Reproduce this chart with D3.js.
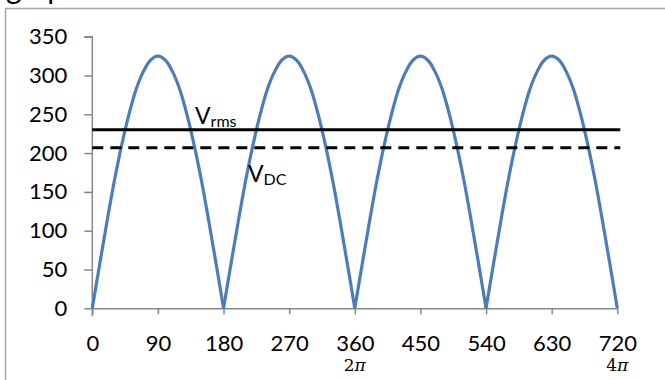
<!DOCTYPE html>
<html>
<head>
<meta charset="utf-8">
<script src="https://cdn.jsdelivr.net/npm/d3@7"></script>
<style>
  body { margin: 0; background: #fff; }
  svg { display: block; font-family: Lato, "Open Sans", sans-serif; }
  .axis path, .axis line { stroke: #868686; }
</style>
</head>
<body>
<div id="chart"></div>
<script>
// rectified sine, sampled every 10 degrees
const voltage = [
  0, 56, 111, 163, 209, 249, 282, 305, 320, 325, 320, 305, 282, 249, 209, 163, 111, 56,
  0, 56, 111, 163, 209, 249, 282, 305, 320, 325, 320, 305, 282, 249, 209, 163, 111, 56,
  0, 56, 111, 163, 209, 249, 282, 305, 320, 325, 320, 305, 282, 249, 209, 163, 111, 56,
  0, 56, 111, 163, 209, 249, 282, 305, 320, 325, 320, 305, 282, 249, 209, 163, 111, 56,
  0
];
const degrees = d3.range(0, 721, 10);
const vRms = 230;
const vDc = 207;
const xTicks = [0, 90, 180, 270, 360, 450, 540, 630, 720];
const yTicks = [0, 50, 100, 150, 200, 250, 300, 350];
const piLabels = [{ at: 360, label: "2" }, { at: 720, label: "4" }];

const width = 665, height = 380;

const svg = d3.select("#chart")
  .append("svg")
  .attr("width", width)
  .attr("height", height);

// frame of the surrounding box (cut off right and bottom)
svg.append("rect")
  .attr("x", 5.5).attr("y", 8.5)
  .attr("width", 720).attr("height", 400)
  .attr("fill", "none")
  .attr("stroke", "#a6a6a6")
  .attr("stroke-width", 1.5);

// title above the frame, only its descenders are in view
svg.append("text")
  .attr("x", 6).attr("y", -1)
  .attr("font-size", 30)
  .text("graph");

const x = d3.scaleLinear().domain([0, 720]).range([92.3, 617.3]);
const y = d3.scaleLinear().domain([0, 350]).range([308.3, 36.7]);

const xAxis = svg.append("g")
  .attr("class", "axis")
  .attr("transform", `translate(0,${y(0)})`)
  .call(d3.axisBottom(x).tickValues(xTicks).tickSize(6).tickSizeOuter(0).tickPadding(21));
xAxis.selectAll("path, line").attr("stroke-width", 1.5);

const yAxis = svg.append("g")
  .attr("class", "axis")
  .attr("transform", `translate(${x(0)},0)`)
  .call(d3.axisLeft(y).tickValues(yTicks).tickSize(8).tickSizeOuter(8).tickPadding(17));
yAxis.selectAll("path, line").attr("stroke-width", 1.5);
yAxis.select(".domain").attr("d", `M-8,${y(350)}H0V${y(0) + 8}`);

svg.selectAll(".axis")
  .attr("font-family", "Lato, 'Open Sans', sans-serif")
  .attr("font-size", 22);
svg.selectAll(".axis .tick text").attr("fill", "#000");

// 2π / 4π under the x labels
svg.append("g").selectAll("text")
  .data(piLabels).enter()
  .append("text")
  .attr("x", d => x(d.at))
  .attr("y", 371)
  .attr("text-anchor", "middle")
  .attr("font-family", "'DejaVu Serif', serif")
  .attr("font-size", 17)
  .each(function (d) {
    const t = d3.select(this);
    t.append("tspan").text(d.label);
    t.append("tspan").attr("font-style", "italic").text("\u03c0");
  });

// one smooth arch per half cycle, so the cusps at zero stay sharp
const points = voltage.map((v, i) => ({ deg: degrees[i], v }));
const arches = d3.range(4).map(k => points.slice(k * 18, k * 18 + 19));

const line = d3.line()
  .x(d => x(d.deg))
  .y(d => y(d.v))
  .curve(d3.curveCatmullRom);

svg.append("g").selectAll("path")
  .data(arches).enter()
  .append("path")
  .attr("fill", "none")
  .attr("stroke", "#4a7ebb")
  .attr("stroke-width", 3.2)
  .attr("stroke-linejoin", "round")
  .attr("d", line);

svg.append("line")
  .attr("x1", x(0)).attr("x2", x(720) + 3)
  .attr("y1", y(vRms)).attr("y2", y(vRms))
  .attr("stroke", "#000").attr("stroke-width", 3);

svg.append("line")
  .attr("x1", x(0)).attr("x2", x(720) + 3)
  .attr("y1", y(vDc)).attr("y2", y(vDc))
  .attr("stroke", "#000").attr("stroke-width", 3)
  .attr("stroke-dasharray", "11,7");

const rmsLabel = svg.append("text").attr("x", 195).attr("y", 124).attr("font-size", 23);
rmsLabel.append("tspan").text("V");
rmsLabel.append("tspan").attr("font-size", 16).attr("dy", 3).text("rms");

const dcLabel = svg.append("text").attr("x", 248).attr("y", 182).attr("font-size", 23);
dcLabel.append("tspan").text("V");
dcLabel.append("tspan").attr("font-size", 16).attr("dy", 3).text("DC");
</script>
</body>
</html>
